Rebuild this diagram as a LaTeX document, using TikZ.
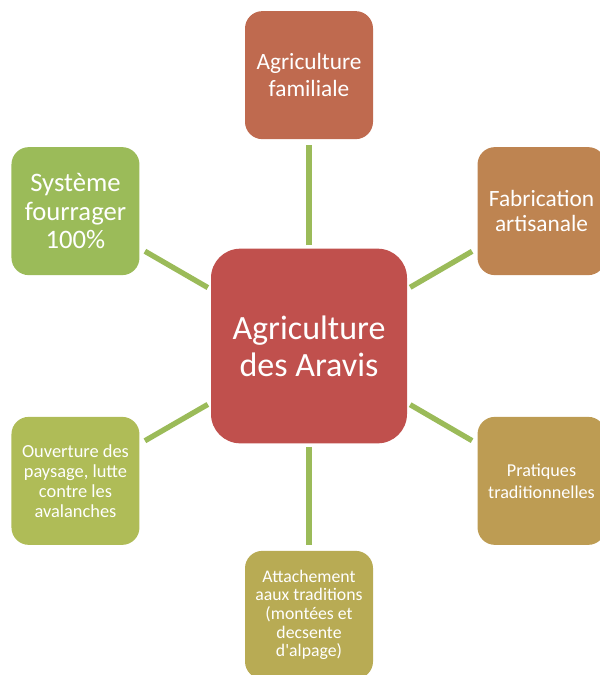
\documentclass[tikz,border=0pt]{standalone}
\usepackage{fontspec}
\setmainfont{Carlito}
\usepackage{xcolor}
\usetikzlibrary{positioning}

\definecolor{hubred}{HTML}{C0504D}
\definecolor{famred}{HTML}{BF6A4F}
\definecolor{artorange}{HTML}{BE8451}
\definecolor{tradgold}{HTML}{BD9C53}
\definecolor{alpolive}{HTML}{B8AB54}
\definecolor{avalime}{HTML}{AFBC57}
\definecolor{fourgreen}{HTML}{9BBB59}

\begin{document}
\begin{tikzpicture}[
  x=0.75pt, y=0.75pt,
  hubbox/.style={fill=hubred, rounded corners=22pt, minimum width=147pt, minimum height=146pt, inner sep=0pt, align=center, text=white, font=\fontsize{25.5}{27.75}\selectfont},
  sat/.style={rounded corners=13pt, minimum width=96pt, minimum height=96pt, inner sep=0pt, align=center, text=white},
  spoke/.style={draw=fourgreen, line width=4pt, shorten <=2.5pt, shorten >=4.5pt}
]
\useasboundingbox (0,0) rectangle (600,-675);
\clip (0,0) rectangle (600,-675);

\node[hubbox] (hub) at (309,-346) {Agriculture\\des Aravis};

\node[sat, fill=famred, font=\fontsize{17.5}{20.25}\selectfont, above=81.75pt of hub] (fam) {Agriculture\\familiale};
\node[sat, fill=fourgreen, font=\fontsize{20}{21.2}\selectfont, above left=-20.25pt and 53.25pt of hub] (four) {Système\\fourrager\\100\%};
\node[sat, fill=artorange, font=\fontsize{17.5}{18.75}\selectfont, above right=-20.25pt and 52.5pt of hub] (art) {Fabrication\\artisanale};
\node[sat, fill=avalime, font=\fontsize{13.8}{15}\selectfont, below left=-20.25pt and 53.25pt of hub] (ava) {Ouverture des\\paysage, lutte\\contre les\\avalanches};
\node[sat, fill=tradgold, font=\fontsize{13.6}{16.5}\selectfont, below right=-20.25pt and 52.5pt of hub] (trad) {Pratiques\\traditionnelles};
\node[sat, fill=alpolive, font=\fontsize{13.3}{14}\selectfont, below=80.25pt of hub] (alp) {Attachement\\aaux traditions\\(montées et\\decsente\\d\textquotesingle alpage)};

\draw[spoke] (hub) -- (fam);
\draw[spoke] (hub) -- (art);
\draw[spoke] (hub) -- (trad);
\draw[spoke] (hub) -- (alp);
\draw[spoke] (hub) -- (ava);
\draw[spoke] (hub) -- (four);

\end{tikzpicture}
\end{document}
